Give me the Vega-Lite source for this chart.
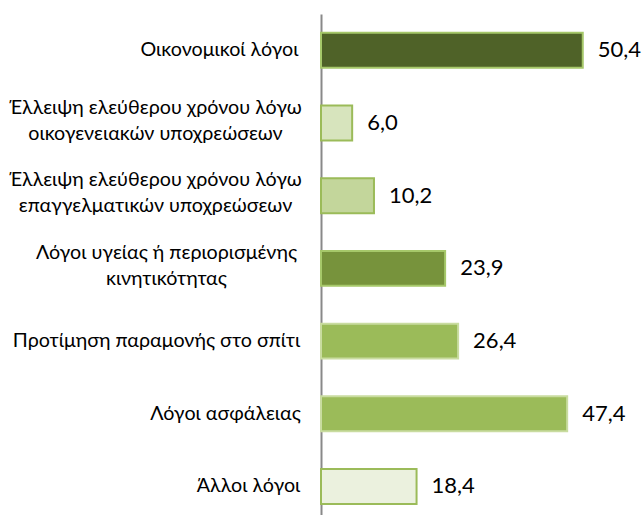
{
  "$schema": "https://vega.github.io/schema/vega-lite/v6.json",
  "width": 322,
  "height": 501,
  "autosize": {"type": "none"},
  "padding": {"left": 321, "top": 14, "right": 0, "bottom": 0},
  "background": "white",
  "config": {"view": {"stroke": null}, "font": "Lato"},
  "data": {
    "values": [
      {"label": "Οικονομικοί λόγοι", "key": "a", "value": 50.4, "text": "50,4"},
      {"label": "Έλλειψη ελεύθερου χρόνου λόγω\nοικογενειακών υποχρεώσεων", "key": "b", "value": 6.0, "text": "6,0"},
      {"label": "Έλλειψη ελεύθερου χρόνου λόγω\nεπαγγελματικών υποχρεώσεων", "key": "c", "value": 10.2, "text": "10,2"},
      {"label": "Λόγοι υγείας ή περιορισμένης\nκινητικότητας", "key": "d", "value": 23.9, "text": "23,9"},
      {"label": "Προτίμηση παραμονής στο σπίτι", "key": "e", "value": 26.4, "text": "26,4"},
      {"label": "Λόγοι ασφάλειας", "key": "f", "value": 47.4, "text": "47,4"},
      {"label": "Άλλοι λόγοι", "key": "g", "value": 18.4, "text": "18,4"}
    ]
  },
  "encoding": {
    "y": {
      "field": "label",
      "type": "nominal",
      "sort": null,
      "scale": {"paddingInner": 0.52, "paddingOuter": 0.206, "align": 0.63},
      "axis": {
        "title": null,
        "ticks": false,
        "domainColor": "#898989",
        "domainWidth": 2,
        "labelExpr": "split(datum.label, '\\n')",
        "labelAlign": "center",
        "labelBaseline": "middle",
        "labelFontSize": 19.7,
        "labelLineHeight": 26,
        "labelColor": "#000000",
        "labelLimit": 400,
        "labelOffset": {
          "condition": {"test": "indexof(datum.value, '\\n') >= 0", "value": -15.5},
          "value": 0
        },
        "labelPadding": {
          "condition": [
            {"test": "indexof(datum.value, 'Οικονομικοί') >= 0", "value": 102},
            {"test": "indexof(datum.value, 'οικογενειακών') >= 0", "value": 166},
            {"test": "indexof(datum.value, 'επαγγελματικών') >= 0", "value": 166},
            {"test": "indexof(datum.value, 'υγείας') >= 0", "value": 155},
            {"test": "indexof(datum.value, 'Προτίμηση') >= 0", "value": 165},
            {"test": "indexof(datum.value, 'ασφάλειας') >= 0", "value": 96}
          ],
          "value": 73
        }
      }
    },
    "x": {"field": "value", "type": "quantitative", "scale": {"domain": [0, 62], "nice": false, "zero": true}, "axis": null}
  },
  "layer": [
    {
      "mark": {"type": "bar", "strokeWidth": 2},
      "encoding": {
        "fill": {
          "field": "key", "type": "nominal", "legend": null,
          "scale": {"domain": ["a","b","c","d","e","f","g"], "range": ["#4F6228","#D7E4BD","#C3D69B","#77933C","#9BBB59","#9BBB59","#EBF1DE"]}
        },
        "stroke": {
          "field": "key", "type": "nominal", "legend": null,
          "scale": {"domain": ["a","b","c","d","e","f","g"], "range": ["#A6C86A","#9BBB59","#9BBB59","#A6C86A","#C9DCA0","#C9DCA0","#9BBB59"]}
        }
      }
    },
    {
      "mark": {"type": "text", "align": "left", "baseline": "middle", "dx": 15, "fontSize": 22, "color": "#000000"},
      "encoding": {
        "text": {"field": "text"}
      }
    }
  ]
}
